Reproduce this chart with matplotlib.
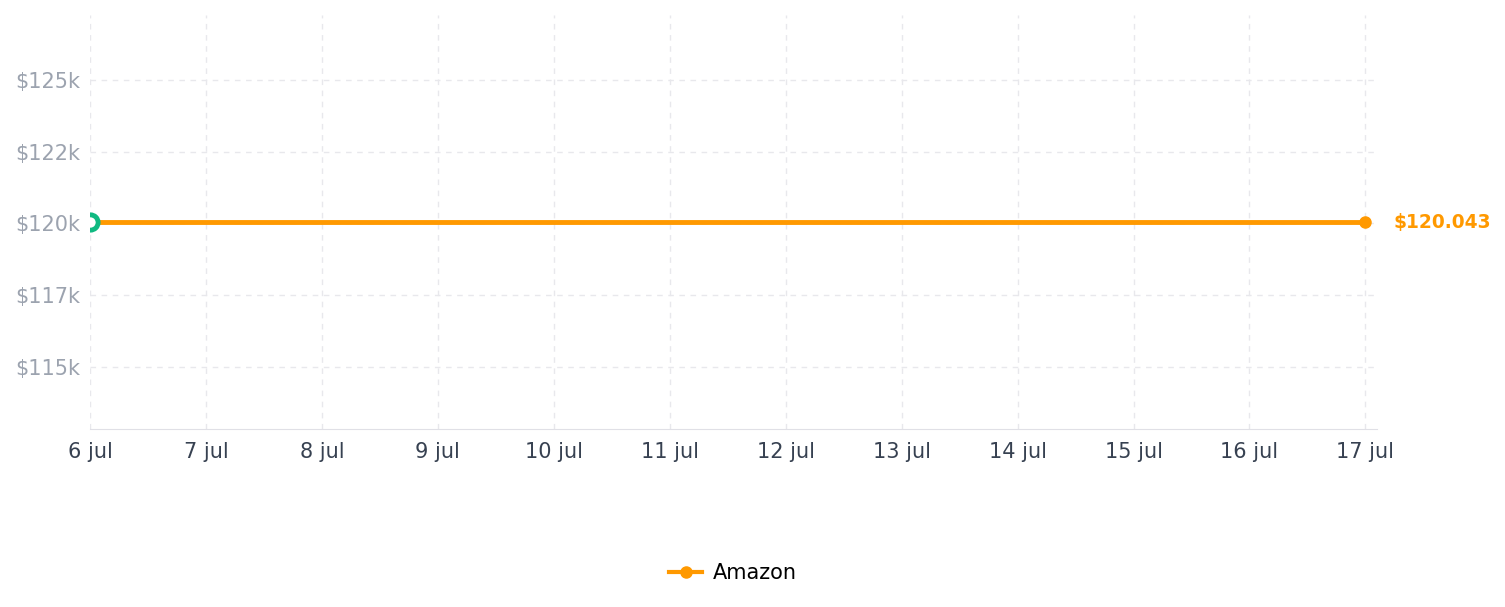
import numpy as np
import matplotlib.pyplot as plt
import matplotlib.dates as mdates
from matplotlib.ticker import FixedLocator, FuncFormatter
import datetime as dt

# daily values, flat over the period
dates = [dt.date(2024, 7, d) for d in range(6, 18)]
amazon = [120043] * 12
series_name = "Amazon"
y_ticks = [115000, 117500, 120000, 122500, 125000]
end_label = "$120.043"

ORANGE = "#ff9900"
GREEN = "#10b981"
GRID = "#e8e8ec"

fig = plt.figure(figsize=(15.05, 6.07), dpi=100)
ax = fig.add_axes([90 / 1505, (607 - 429) / 607, (1377 - 90) / 1505, (429 - 15) / 607])

x = mdates.date2num(dates)
ax.plot(x, amazon, color=ORANGE, lw=3.5, solid_capstyle="butt", zorder=3)
ax.plot(x[-1], amazon[-1], "o", color=ORANGE, ms=8, zorder=4)
ax.plot(x[0], amazon[0], "o", mfc="white", mec=GREEN, mew=3.5, ms=11, zorder=5)
ax.plot([], [], "-o", color=ORANGE, lw=3, ms=8, label=series_name)

ax.annotate(end_label, xy=(x[-1], amazon[-1]), xytext=(20, 0), textcoords="offset points",
            color=ORANGE, fontsize=13.4, fontweight="bold", va="center", ha="left",
            annotation_clip=False)

ax.set_xlim(x[0], x[-1] + 0.1)
ax.set_ylim(112843, 127260)

ax.xaxis.set_major_locator(FixedLocator(x))
ax.xaxis.set_major_formatter(FuncFormatter(lambda v, p: f"{mdates.num2date(v).day} jul"))
ax.yaxis.set_major_locator(FixedLocator(y_ticks))
ax.yaxis.set_major_formatter(FuncFormatter(lambda v, p: f"${int(v // 1000)}k"))

ax.tick_params(axis="x", length=0, pad=9, labelsize=15, labelcolor="#374151")
ax.tick_params(axis="y", length=0, pad=7, labelsize=15, labelcolor="#9ca3af")

ax.grid(True, color=GRID, lw=1, ls=(0, (4, 4)))
ax.set_axisbelow(True)
for side in ["top", "right", "left"]:
    ax.spines[side].set_visible(False)
ax.spines["bottom"].set_color("#e0e0e6")

fig.legend(loc="center", bbox_to_anchor=(733 / 1505, 1 - 573 / 607), frameon=False,
           fontsize=15, handlelength=1.6, handletextpad=0.5)

fig.savefig("out.png", dpi=100)
